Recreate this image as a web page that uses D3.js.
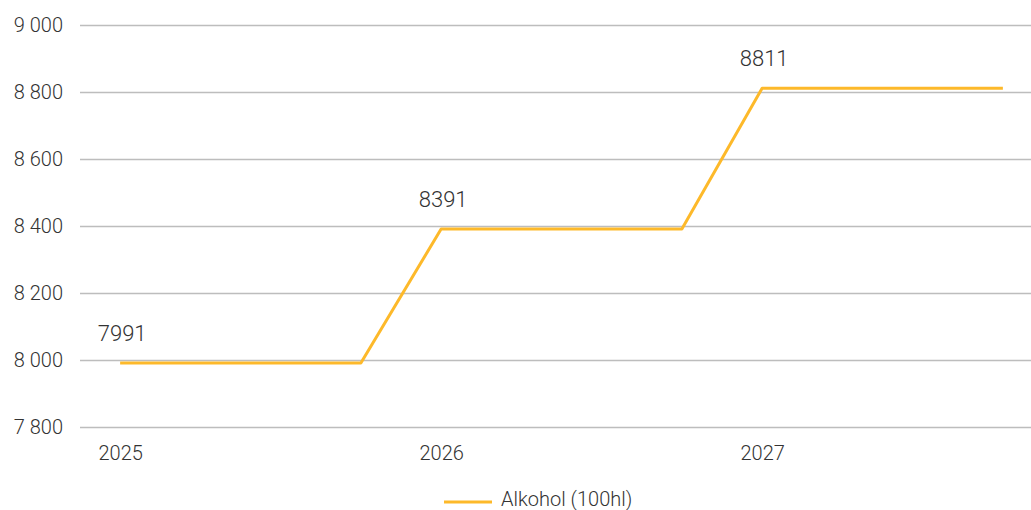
<!DOCTYPE html>
<html>
<head>
<meta charset="utf-8">
<script src="https://cdn.jsdelivr.net/npm/d3@7/dist/d3.min.js"></script>
<style>
  html, body { margin: 0; padding: 0; background: #fff; }
  svg { display: block; }
  text { font-family: Roboto, "Liberation Sans", Arial, sans-serif; font-weight: 300; fill: #333333; }
</style>
</head>
<body>
<svg id="chart" width="1031" height="510"></svg>
<script>
// Quarterly periods; only the first quarter of each year carries a year label
const periods = ["2025 Q1", "2025 Q2", "2025 Q3", "2025 Q4",
                 "2026 Q1", "2026 Q2", "2026 Q3", "2026 Q4",
                 "2027 Q1", "2027 Q2", "2027 Q3", "2027 Q4"];
const yearLabels = ["2025", "", "", "", "2026", "", "", "", "2027", "", "", ""];
const alkohol = [7991, 7991, 7991, 7991, 8391, 8391, 8391, 8391, 8811, 8811, 8811, 8811];
// Periods whose value is printed above the line
const labelled = [0, 4, 8];
const yTicks = [7800, 8000, 8200, 8400, 8600, 8800, 9000];
const seriesName = "Alkohol (100hl)";

const svg = d3.select("#chart");
const lineColor = "#FDB92A";
const gridColor = "#BDBDBD";

const x = d3.scalePoint().domain(periods).range([80, 1043]).padding(0.5);
const y = d3.scaleLinear().domain([7800, 9000]).range([427, 25]);

// Horizontal gridlines and y tick labels
const yAxis = d3.axisLeft(y)
  .tickValues(yTicks)
  .tickSize(-951)
  .tickPadding(17)
  .tickFormat(d => d3.format(",")(d).replace(/,/g, " "));

const gy = svg.append("g").attr("transform", "translate(80,0)").call(yAxis);
gy.select(".domain").remove();
gy.selectAll(".tick line").attr("stroke", gridColor).attr("stroke-width", 1.3);
gy.selectAll(".tick text").attr("font-size", 20).attr("font-family", null);

// Year labels under the plot
const xAxis = d3.axisBottom(x)
  .tickSize(0)
  .tickPadding(19)
  .tickFormat((d, i) => yearLabels[i]);
const gx = svg.append("g").attr("transform", "translate(0,427)").call(xAxis);
gx.select(".domain").remove();
gx.selectAll(".tick text").attr("font-size", 20).attr("font-family", null);

// Series line
const line = d3.line()
  .x((d, i) => x(periods[i]))
  .y(d => y(d));

svg.append("path")
  .datum(alkohol)
  .attr("fill", "none")
  .attr("stroke", lineColor)
  .attr("stroke-width", 3)
  .attr("stroke-linejoin", "round")
  .attr("d", line);

// Value labels
svg.selectAll("text.value")
  .data(labelled)
  .enter().append("text")
  .attr("class", "value")
  .attr("x", i => x(periods[i]) + 2)
  .attr("y", i => y(alkohol[i]) - 22)
  .attr("text-anchor", "middle")
  .attr("font-size", 22)
  .text(i => alkohol[i]);

// Legend
const legend = svg.append("g").attr("transform", "translate(444,502)");
legend.append("line")
  .attr("x1", 0).attr("x2", 48)
  .attr("y1", 0).attr("y2", 0)
  .attr("stroke", lineColor).attr("stroke-width", 3);
legend.append("text")
  .attr("x", 57).attr("y", -3)
  .attr("dy", "0.35em")
  .attr("font-size", 20)
  .text(seriesName);
</script>
</body>
</html>
